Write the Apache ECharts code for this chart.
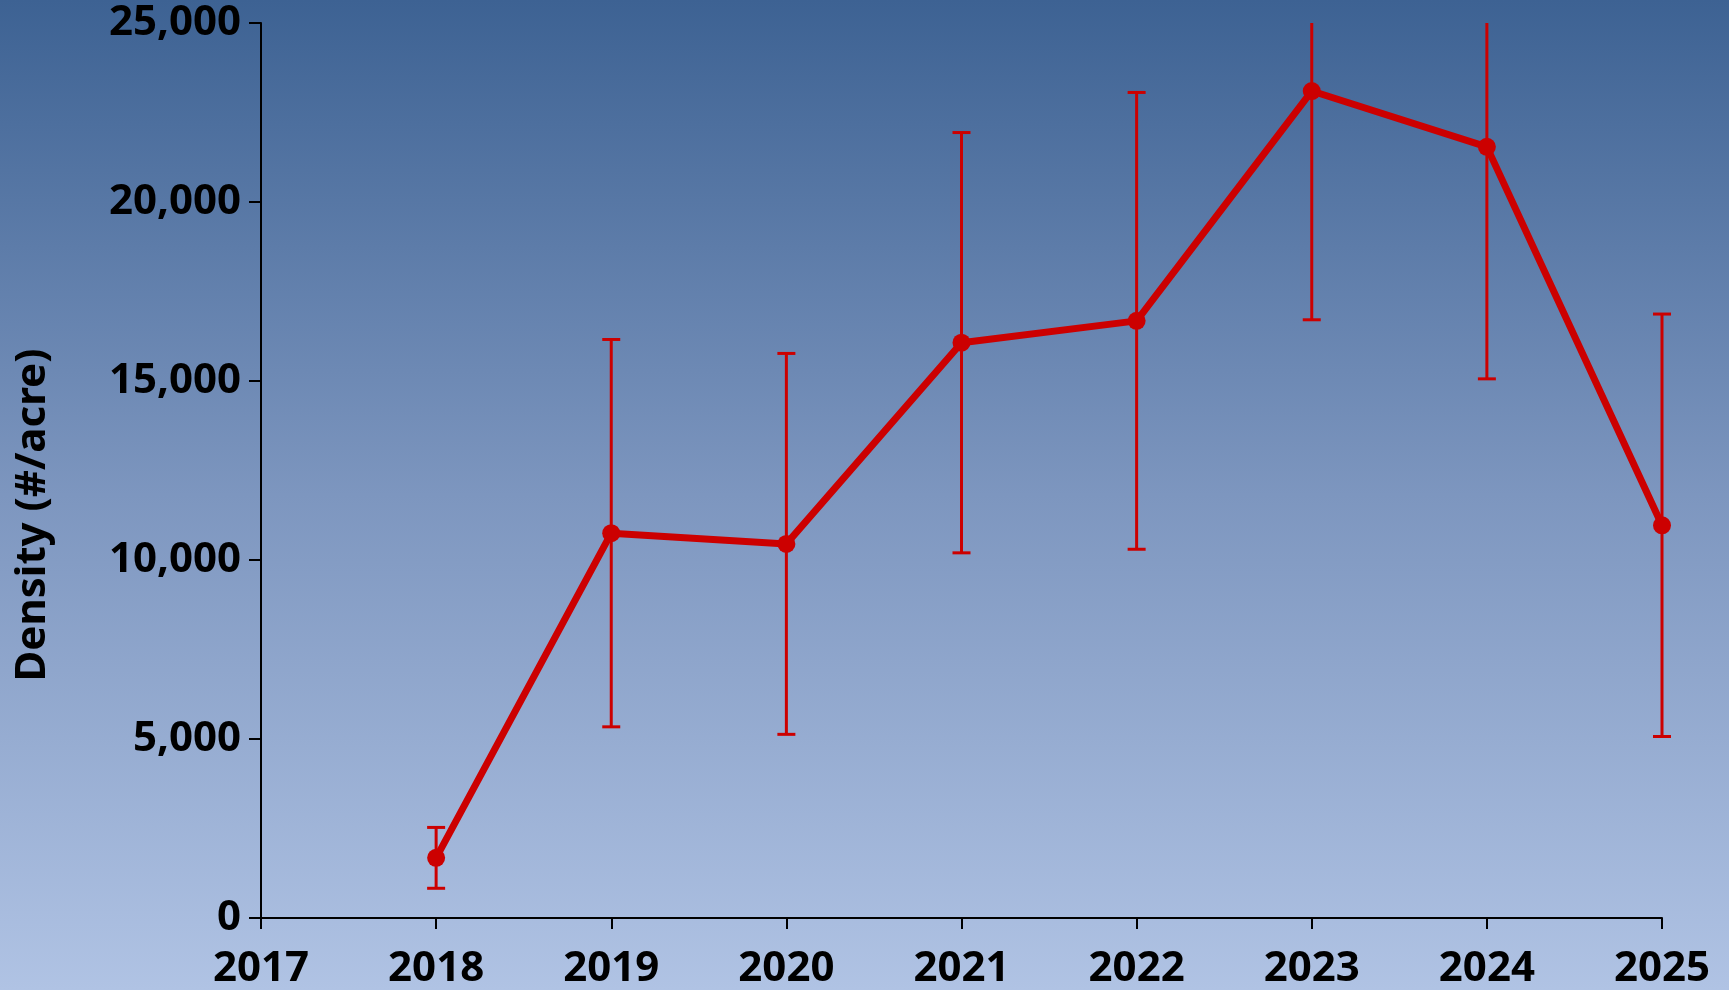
<!DOCTYPE html>
<html>
<head>
<meta charset="utf-8">
<script src="https://cdn.jsdelivr.net/npm/echarts@6/dist/echarts.min.js"></script>
<style>
    html, body { margin: 0; padding: 0; }
    #myChart { width: 1729px; height: 990px; }
</style>
</head>
<body>
<div id="myChart"></div>
<script>
    // survey years and mean density with error margin (#/acre)
    const years = [2018, 2019, 2020, 2021, 2022, 2023, 2024, 2025];
    const density = [1680, 10750, 10450, 16070, 16680, 23100, 21540, 10970];
    const errorMargin = [850, 5410, 5320, 5870, 6380, 6390, 6480, 5900];
    const yTicks = [0, 5000, 10000, 15000, 20000, 25000];

    const red = '#cc0000';
    const font = '"Noto Sans", "Open Sans", sans-serif';
    const yMax = yTicks[yTicks.length - 1];

    let lineData = years.map((y, i) => [y, density[i]]);
    let errData = years.map((y, i) => [y, density[i] - errorMargin[i], density[i] + errorMargin[i]]);

    let myChart = echarts.init(document.getElementById('myChart'));
    myChart.setOption({
        backgroundColor: {
            type: 'linear', x: 0, y: 0, x2: 0, y2: 1,
            colorStops: [
                { offset: 0, color: '#3d6293' },
                { offset: 0.5, color: '#7d96bf' },
                { offset: 1, color: '#b0c3e4' }
            ]
        },
        textStyle: { fontFamily: font },
        animation: false,
        grid: { left: 261, right: 67, top: 23, bottom: 68 },
        graphic: [{
            type: 'text',
            x: 33, y: 515,
            rotation: Math.PI / 2,
            style: {
                text: 'Density (#/acre)',
                font: 'bold 42px ' + font,
                fill: '#000',
                align: 'center',
                verticalAlign: 'middle'
            }
        }],
        xAxis: {
            type: 'value',
            min: 2017,
            max: 2025,
            interval: 1,
            splitLine: { show: false },
            axisLine: { lineStyle: { color: '#000', width: 2 } },
            axisTick: { length: 11, lineStyle: { color: '#000', width: 2 } },
            axisLabel: {
                color: '#000', fontSize: 42, fontWeight: 'bold', margin: 30,
                formatter: v => String(v)
            }
        },
        yAxis: {
            type: 'value',
            min: yTicks[0],
            max: yMax,
            interval: 5000,
            splitLine: { show: false },
            axisLine: { show: true, lineStyle: { color: '#000', width: 2 } },
            axisTick: { show: true, length: 12, lineStyle: { color: '#000', width: 2 } },
            axisLabel: {
                color: '#000', fontSize: 42, fontWeight: 'bold', margin: 20,
                formatter: v => v.toLocaleString('en-US')
            }
        },
        series: [{
            type: 'custom',
            clip: false,
            z: 2,
            data: errData,
            renderItem: function (params, api) {
                let x = api.value(0);
                let upper = api.value(2);
                let cut = upper > yMax; // bar runs off the top: no cap
                let lo = api.coord([x, api.value(1)]);
                let hi = api.coord([x, Math.min(upper, yMax)]);
                let half = 9;
                let style = { stroke: red, lineWidth: 3 };
                let kids = [
                    { type: 'line', shape: { x1: lo[0], y1: lo[1], x2: hi[0], y2: hi[1] }, style: style },
                    { type: 'line', shape: { x1: lo[0] - half, y1: lo[1], x2: lo[0] + half, y2: lo[1] }, style: style }
                ];
                if (!cut) {
                    kids.push({ type: 'line', shape: { x1: hi[0] - half, y1: hi[1], x2: hi[0] + half, y2: hi[1] }, style: style });
                }
                return { type: 'group', children: kids };
            }
        }, {
            type: 'line',
            z: 3,
            data: lineData,
            symbol: 'circle',
            symbolSize: 18,
            lineStyle: { color: red, width: 7 },
            itemStyle: { color: red }
        }]
    });
</script>
</body>
</html>
